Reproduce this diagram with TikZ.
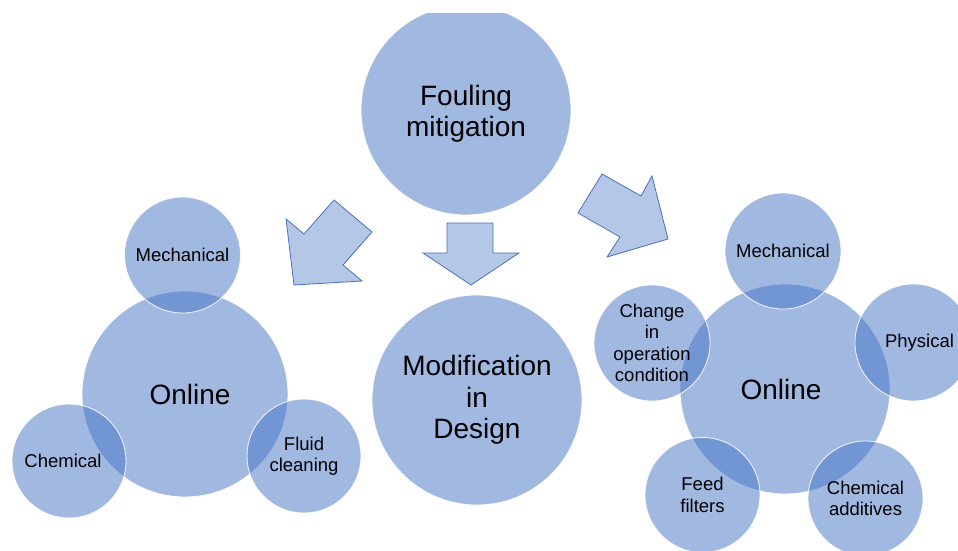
\documentclass[tikz,border=0pt]{standalone}
\usepackage{fontspec}
\setmainfont{Liberation Sans}
\definecolor{accent}{HTML}{4472C4}
\definecolor{arrfill}{HTML}{B4C7E7}
\definecolor{arrline}{HTML}{4A70B8}
\begin{document}
\begin{tikzpicture}[x=1pt,y=-1pt,
  bub/.style={circle, fill=accent, fill opacity=0.5, draw=white, draw opacity=0.9,
    line width=0.8pt, text opacity=1, inner sep=0pt, align=center, text=black},
  big/.style={bub, font=\fontsize{28}{31.5}\selectfont},
  small/.style={bub, font=\fontsize{18.5}{21.5}\selectfont},
  arr/.style={fill=arrfill, draw=arrline, line width=0.8pt, line join=miter}]
\useasboundingbox (0,0) rectangle (958,551);
\clip (0,14) rectangle (958,551);

% top and centre
\node[big, minimum size=210pt] (fm) at (466,110) {\rule{0pt}{28pt}Fouling\\mitigation};
\node[big, minimum size=210pt] (mod) at (477,400) {Modification\\in\\Design};

% left group
\node[big, minimum size=206pt] (onl) at (185,394) {\hspace*{10pt}Online};
\node[small, minimum size=116pt] (mechl) at (182.5,255) {Mechanical};
\node[small, minimum size=114pt] (chem) at (69,461) {\hspace*{-12pt}Chemical};
\node[small, minimum size=114pt] (fluid) at (304,456) {Fluid\\cleaning};

% right group
\node[big, minimum size=210pt] (onr) at (785,389) {\hspace*{-8pt}Online};
\node[small, minimum size=116pt] (mechr) at (783,251) {Mechanical};
\node[small, minimum size=117pt] (phys) at (913.5,342.5) {\hspace*{12pt}Physical};
\node[small, minimum size=116pt] (chg) at (652,343) {Change\\in\\operation\\condition};
\node[small, minimum size=115pt] (feed) at (702.5,495) {Feed\\filters};
\node[small, minimum size=115pt] (chad) at (865.5,498.5) {Chemical\\additives};

% block arrows
\draw[arr] (294,285) -- (286,219) -- (304,234) -- (334,200) -- (372,232)
  -- (343,265) -- (362,281) -- cycle;
\draw[arr] (447,223) -- (493,223) -- (493,253) -- (519,253) -- (471,285)
  -- (423,253) -- (447,253) -- cycle;
\draw[arr] (602,174) -- (641,196) -- (652,176) -- (668,239) -- (607,257)
  -- (620,237) -- (578,213) -- cycle;
\end{tikzpicture}
\end{document}
